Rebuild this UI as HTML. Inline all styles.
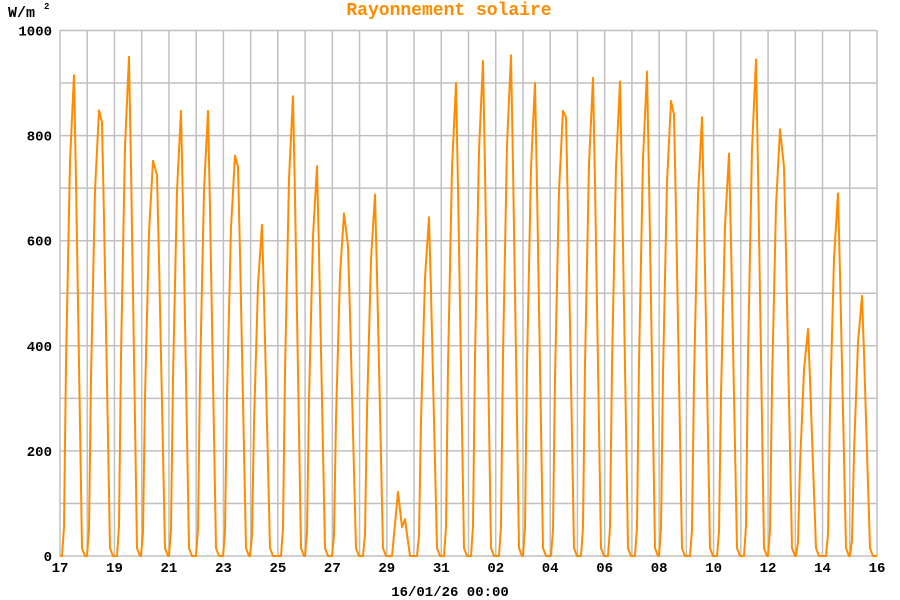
<!DOCTYPE html>
<html><head><meta charset="utf-8"><style>
html,body{margin:0;padding:0;background:#fff;width:900px;height:600px;overflow:hidden}
svg text{font-family:"Liberation Mono",monospace;font-weight:bold;font-size:14px;fill:#000}
</style></head><body>
<svg id="s" width="900" height="600" xmlns="http://www.w3.org/2000/svg">
<text x="449" y="15" text-anchor="middle" style="fill:#ff8c00;font-size:18px">Rayonnement solaire</text>
<text x="8" y="17" style="font-size:15px">W/m</text><text x="44" y="9" style="font-size:9px">2</text>
<g id="grid" stroke="#c0c0c0" stroke-width="1.5"></g>
<g id="lab"></g>
<text x="450" y="596" text-anchor="middle" style="font-size:14px">16/01/26 00:00</text>
<polyline id="line" fill="none" stroke="#ff8c00" stroke-width="2" stroke-linejoin="round"/>
</svg>
<script>
var L=60,R=877,T=30.5,B=556,n=30,dw=(R-L)/n;
function Y(v){return B-(B-T)*v/1000;}
var g=document.getElementById('grid'),lab=document.getElementById('lab'),NS='http://www.w3.org/2000/svg';
function el(p,t,a){var e=document.createElementNS(NS,t);for(var k in a)e.setAttribute(k,a[k]);p.appendChild(e);return e;}
for(var i=0;i<=10;i++){var y=Y(i*100);el(g,'line',{x1:L,x2:R,y1:y,y2:y});}
for(var i=0;i<=n;i++){var x=L+i*dw;el(g,'line',{x1:x,x2:x,y1:T,y2:B});}
for(var i=0;i<=5;i++){var t=el(lab,'text',{x:52,y:Y(i*200)+5,'text-anchor':'end'});t.textContent=i*200;}
var days=[17,18,19,20,21,22,23,24,25,26,27,28,29,30,31,1,2,3,4,5,6,7,8,9,10,11,12,13,14,15,16];
for(var i=0;i<=n;i+=2){var t=el(lab,'text',{x:L+i*dw,y:572,'text-anchor':'middle'});var d=days[i];t.textContent=(d<10?'0':'')+d;}
var pk=[[[74,915]],[[99,848],[102,825]],[[129,950]],[[153,752],[157,725]],[[181,847]],[[208,847]],[[235,762],[238,740]],[[262,630]],[[293,875]],[[317,742]],[[344,652],[348,590]],[[375,688]],null,[[429,645]],[[456,900]],[[483,942]],[[511,953]],[[535,900]],[[563,847],[566,835]],[[593,910]],[[620,903]],[[647,922]],[[671,866],[674,840]],[[702,835]],[[729,766]],[[756,945]],[[780,812],[784,740]],[[808,432]],[[838,690]],[[862,495]]];
var pts=[[L,Y(0)],[62,Y(0)]];
for(var i=0;i<pk.length;i++){
 var p=pk[i];
 if(!p){pts.push([392,Y(0)],[398,Y(122)],[402,Y(55)],[405,Y(70)],[410,Y(0)]);continue;}
 var a=p[0],z=p[p.length-1],m=a[1];
 pts.push([a[0]-12,Y(0)],[a[0]-10,Y(m*0.06)],[a[0]-8,Y(m*0.4)],[a[0]-4,Y(m*0.82)]);
 for(var j=0;j<p.length;j++)pts.push([p[j][0],Y(p[j][1])]);
 var e=z[1];
 pts.push([z[0]+2,Y(e*0.78)],[z[0]+5,Y(e*0.4)],[z[0]+8,Y(15)],[z[0]+11,Y(0)]);
}
pts.push([R,Y(0)]);
document.getElementById('line').setAttribute('points',pts.map(function(q){return q[0].toFixed(1)+','+q[1].toFixed(1);}).join(' '));
</script>
</body></html>
